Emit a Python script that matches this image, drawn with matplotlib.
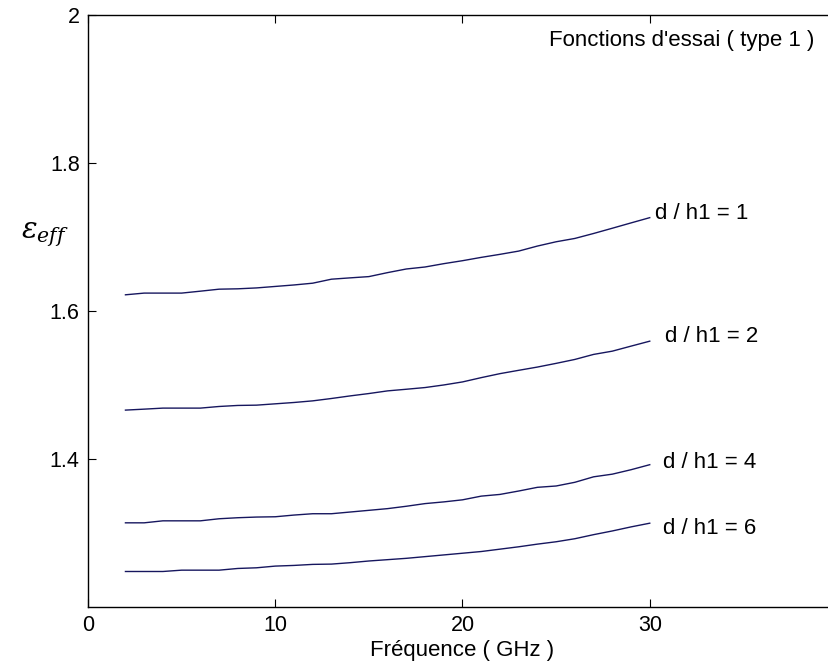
import matplotlib
matplotlib.use("Agg")
import matplotlib.pyplot as plt
import numpy as np

plt.rcParams['font.family'] = ['Liberation Sans', 'DejaVu Sans']
plt.rcParams['mathtext.fontset'] = 'dejavuserif'

freq = list(range(2, 31))

eff_d1 = [1.6217, 1.624, 1.624, 1.624, 1.6266, 1.6293, 1.6298, 1.631, 1.633, 1.635,
          1.6374, 1.6428, 1.6446, 1.6463, 1.6517, 1.6566, 1.6593, 1.6638, 1.6678, 1.6723,
          1.6764, 1.6808, 1.6876, 1.6934, 1.6979, 1.7046, 1.7117, 1.7189, 1.726]
eff_d2 = [1.4658, 1.4671, 1.4685, 1.4685, 1.4685, 1.4707, 1.4721, 1.4725, 1.4743, 1.4761,
          1.4783, 1.4815, 1.485, 1.4882, 1.4918, 1.494, 1.4963, 1.4998, 1.5039, 1.5097,
          1.5151, 1.5196, 1.524, 1.529, 1.5343, 1.5411, 1.5455, 1.5523, 1.559]
eff_d4 = [1.3134, 1.3134, 1.3161, 1.3161, 1.3161, 1.3189, 1.3203, 1.3212, 1.3216, 1.3239,
          1.3257, 1.3257, 1.328, 1.3303, 1.3326, 1.3358, 1.3394, 1.3417, 1.3445, 1.3495,
          1.3518, 1.3564, 1.3614, 1.3632, 1.3682, 1.3756, 1.3792, 1.3852, 1.392]
eff_d6 = [1.2476, 1.2476, 1.2476, 1.2494, 1.2494, 1.2494, 1.2517, 1.2526, 1.2549, 1.2558,
          1.2572, 1.2576, 1.2595, 1.2618, 1.2636, 1.2654, 1.2677, 1.27, 1.2723, 1.2746,
          1.2778, 1.281, 1.2846, 1.2878, 1.2919, 1.2974, 1.3024, 1.3079, 1.3129]

series = [eff_d1, eff_d2, eff_d4, eff_d6]
labels = ['d / h1 = 1', 'd / h1 = 2', 'd / h1 = 4', 'd / h1 = 6']
label_pos = [(30.3, 1.732), (30.8, 1.565), (30.7, 1.3954), (30.7, 1.3053)]

xticks = [0, 10, 20, 30]
yticks = [1.4, 1.6, 1.8, 2.0]
ytick_labels = ['1.4', '1.6', '1.8', '2']

fig = plt.figure(figsize=(8.29, 6.70), dpi=100)
ax = fig.add_axes([88/829, 1-606.7/670, (837-88)/829, (606.7-15)/670])

for ys in series:
    ax.plot(freq, ys, color='#16165e', lw=1.0)

for lab, (x, y) in zip(labels, label_pos):
    ax.text(x, y, lab, fontsize=16, va='center', ha='left', color='black')

ax.text(38.8, 1.966, "Fonctions d'essai ( type 1 )", fontsize=16, va='center', ha='right')

ax.set_xlim(0, 40)
ax.set_ylim(1.2, 2.0)
ax.set_xticks(xticks)
ax.set_xticklabels([str(t) for t in xticks])
ax.set_yticks(yticks)
ax.set_yticklabels(ytick_labels)
ax.tick_params(direction='in', length=6, width=0.8, labelsize=15.5, top=True, right=True, pad=6)
for s in ax.spines.values():
    s.set_linewidth(1.0)
ax.set_xlabel('Fréquence ( GHz )', fontsize=16, labelpad=3)

fig.text(45/829, 1-235/670, r'$\varepsilon_{eff}$', fontsize=21, ha='center', va='center')

fig.savefig('out.png', dpi=100)
